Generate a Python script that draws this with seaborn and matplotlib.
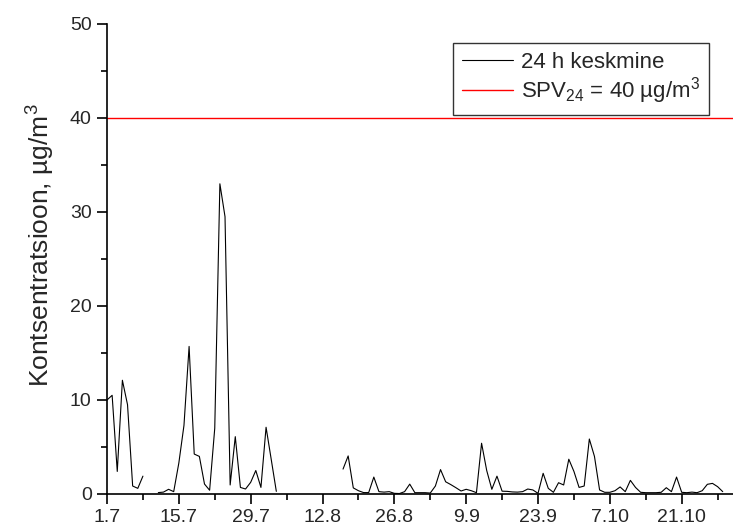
import numpy as np
import pandas as pd
import matplotlib
matplotlib.use("Agg")
import matplotlib.pyplot as plt
from matplotlib.lines import Line2D
from matplotlib.ticker import MultipleLocator, FixedLocator, FixedFormatter
import seaborn as sns

# Daily 24 h mean concentrations, 1.7 .. 29.10 (NaN = no measurement)
concentration = [
    10.0, 10.5, 2.4, 12.1, 9.5, 0.85, 0.6, 1.9, np.nan, np.nan,
    0.15, 0.2, 0.5, 0.25, 3.3, 7.3, 15.7, 4.25, 4.0, 1.06,
    0.4, 7.0, 33.0, 29.5, 0.96, 6.1, 0.7, 0.53, 1.24, 2.5,
    0.7, 7.1, 3.7, 0.28, np.nan, np.nan, np.nan, np.nan, np.nan, np.nan,
    np.nan, np.nan, np.nan, np.nan, np.nan, np.nan, 2.65, 4.05, 0.65, 0.35,
    0.15, 0.15, 1.8, 0.25, 0.2, 0.25, 0.07, 0.05, 0.25, 1.05,
    0.14, 0.14, 0.14, 0.1, 0.85, 2.6, 1.3, 1.0, 0.67, 0.32,
    0.5, 0.35, 0.14, 5.4, 2.5, 0.5, 1.9, 0.3, 0.28, 0.22,
    0.2, 0.25, 0.53, 0.43, 0.07, 2.2, 0.6, 0.18, 1.2, 0.96,
    3.7, 2.4, 0.7, 0.85, 5.85, 4.0, 0.43, 0.18, 0.18, 0.35,
    0.75, 0.25, 1.45, 0.7, 0.18, 0.14, 0.14, 0.14, 0.18, 0.67,
    0.25, 1.8, 0.18, 0.14, 0.2, 0.14, 0.35, 1.03, 1.13, 0.78,
    0.25,
]
day = list(range(len(concentration)))

tick_days = [0, 14, 28, 42, 56, 70, 84, 98, 112]
tick_labels = ["1.7", "15.7", "29.7", "12.8", "26.8", "9.9", "23.9", "7.10", "21.10"]

limit_value = 40
series_label = "24 h keskmine"
limit_label = r"SPV$_{24}$ = 40 µg/m$^{3}$"
y_label = r"Kontsentratsioon, µg/m$^{3}$"

sns.set_style("white")
plt.rcParams["font.family"] = ["Liberation Sans", "DejaVu Sans"]
plt.rcParams["mathtext.fontset"] = "custom"
plt.rcParams["mathtext.rm"] = "Liberation Sans"
plt.rcParams["mathtext.it"] = "Liberation Sans"
plt.rcParams["mathtext.bf"] = "Liberation Sans"

df = pd.DataFrame({"day": day, "value": concentration})
df["segment"] = df["value"].isna().cumsum()
df = df.dropna()

fig = plt.figure(figsize=(7.33, 5.27), dpi=100)
ax = fig.add_axes([107 / 733, 33 / 527, 626 / 733, 470 / 527])

sns.lineplot(data=df, x="day", y="value", units="segment", estimator=None,
             color="black", linewidth=0.8, ax=ax)
ax.axhline(limit_value, color="red", linewidth=1.0)

ax.set_xlim(0, 122)
ax.set_ylim(0, 50)
ax.xaxis.set_major_locator(FixedLocator(tick_days))
ax.xaxis.set_major_formatter(FixedFormatter(tick_labels))
ax.xaxis.set_minor_locator(MultipleLocator(7))
ax.yaxis.set_major_locator(MultipleLocator(10))
ax.yaxis.set_minor_locator(MultipleLocator(5))

ax.set_xlabel("")
ax.set_ylabel(y_label, fontsize=19)
ax.yaxis.set_label_coords(-0.080, 0.53)

for side in ("top", "right"):
    ax.spines[side].set_visible(False)
for side in ("left", "bottom"):
    ax.spines[side].set_color("black")
    ax.spines[side].set_linewidth(1.2)

ax.tick_params(which="major", direction="out", length=7, width=1.2,
               labelsize=14, color="black", pad=4)
ax.tick_params(which="minor", direction="out", length=4, width=1.2, color="black")
ax.tick_params(axis="both", which="both", bottom=True, left=True)

handles = [Line2D([], [], color="black", linewidth=0.8),
           Line2D([], [], color="red", linewidth=1.0)]
leg = ax.legend(handles, [series_label, limit_label], loc="upper right",
                bbox_to_anchor=(602 / 626, 1 - 19 / 470), borderaxespad=0,
                fontsize=16, frameon=True, fancybox=False, edgecolor="black",
                handlelength=2.3, handletextpad=0.35, borderpad=0.4,
                labelspacing=0.1)
leg.get_frame().set_linewidth(1.0)

fig.savefig("out.png", dpi=100)
